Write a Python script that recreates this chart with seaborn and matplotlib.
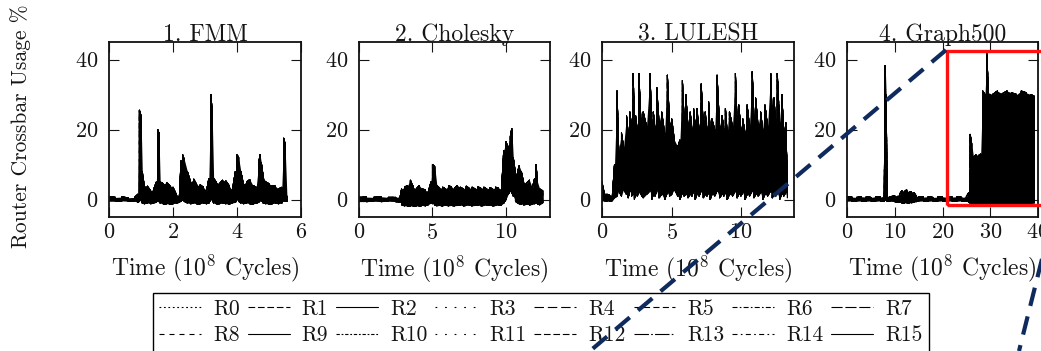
import numpy as np
import pandas as pd
import matplotlib
matplotlib.use('Agg')
import matplotlib.pyplot as plt
from matplotlib.lines import Line2D
from matplotlib.patches import Rectangle
import seaborn as sns

# ---- data (upper / lower envelope of the 16 router traces)
apps = ['1. FMM', '2. Cholesky', '3. LULESH', '4. Graph500']
routers = ['R%d' % i for i in range(16)]

fmm_t = [0.0, 0.2, 0.4, 0.6, 0.8, 0.9, 0.95, 1.0, 1.04, 1.1, 1.2, 1.3, 1.4, 1.48, 1.52, 1.56,
         1.6, 1.7, 1.8, 1.9, 2.0, 2.1, 2.2, 2.25, 2.3, 2.35, 2.45, 2.55, 2.65, 2.75, 2.85,
         2.95, 3.05, 3.12, 3.18, 3.22, 3.27, 3.35, 3.45, 3.55, 3.65, 3.75, 3.85, 3.95, 4.0,
         4.05, 4.12, 4.2, 4.3, 4.4, 4.5, 4.6, 4.68, 4.72, 4.76, 4.82, 4.9, 5.0, 5.1, 5.2,
         5.3, 5.4, 5.46, 5.5, 5.56]
fmm_hi = [0.8, 0.6, 0.7, 0.5, 0.6, 1.5, 25.5, 24.0, 8.0, 4.0, 3.8, 2.5, 3.0, 5.0, 20.0, 19.0,
          5.0, 4.5, 4.8, 4.0, 3.5, 1.5, 1.0, 11.0, 12.8, 11.5, 8.0, 5.0, 5.8, 4.0, 4.2,
          3.5, 2.5, 6.0, 30.0, 26.0, 6.0, 5.0, 4.5, 5.5, 5.3, 4.0, 2.5, 8.0, 12.8,
          12.0, 8.0, 4.5, 5.0, 5.7, 4.0, 3.5, 10.5, 12.8, 10.5, 6.5, 5.0, 4.5, 4.0, 3.8,
          3.0, 3.5, 17.5, 16.0, 1.0]
fmm_lo = [-0.5, -0.5, -0.4, -0.5, -0.5, -0.8, -0.5, 0.0, -1.0, -1.2, -1.0, -1.2, -1.0, -0.8, 0.0, -0.5,
          -1.0, -1.3, -1.2, -1.4, -1.2, -1.0, -0.8, -0.5, 0.0, -0.5, -1.0, -1.2, -1.0, -1.3, -1.2,
          -1.0, -1.2, -1.0, 0.0, 0.0, -1.0, -1.2, -1.2, -1.0, -1.2, -1.3, -1.0, -0.8, 0.0,
          -0.5, -1.0, -1.2, -1.0, -1.2, -1.3, -1.0, -0.8, 0.0, -0.5, -1.0, -1.2, -1.3, -1.2, -1.0,
          -1.2, -1.0, 0.0, -0.5, -0.5]

chol_t = [0.0, 0.5, 1.0, 1.5, 2.0, 2.5, 2.8, 2.9, 3.1, 3.3, 3.5, 3.7, 3.9, 4.1, 4.3, 4.5, 4.7,
          4.9, 5.0, 5.15, 5.3, 5.5, 5.7, 5.9, 6.1, 6.3, 6.5, 6.7, 6.9, 7.1, 7.3, 7.5, 7.7,
          7.9, 8.1, 8.3, 8.5, 8.7, 8.9, 9.1, 9.3, 9.5, 9.7, 9.85, 10.0, 10.15, 10.3, 10.4,
          10.5, 10.65, 10.8, 10.9, 11.05, 11.2, 11.4, 11.6, 11.8, 11.95, 12.05, 12.15, 12.3, 12.5]
chol_hi = [0.6, 0.7, 0.6, 0.8, 0.6, 0.6, 0.8, 3.0, 3.5, 4.0, 5.5, 3.5, 3.0, 4.0, 3.0, 2.8, 2.0,
           5.0, 10.0, 9.5, 4.0, 3.2, 3.5, 3.0, 4.0, 3.5, 3.2, 4.0, 3.5, 3.0, 3.8, 3.2, 3.5,
           3.0, 3.6, 3.2, 3.5, 3.0, 3.4, 3.0, 3.5, 3.2, 3.0, 14.0, 16.5, 15.0, 18.0, 20.3,
           12.0, 7.5, 8.0, 9.6, 8.0, 5.0, 4.7, 5.5, 3.3, 6.0, 10.0, 5.0, 3.0, 2.5]
chol_lo = [-0.6, -0.6, -0.5, -0.6, -0.5, -0.6, -0.7, -1.5, -1.8, -1.9, -1.8, -2.0, -1.8, -1.9, -1.7, -1.8, -1.5,
           -1.0, -1.2, -1.5, -1.8, -1.7, -1.8, -1.6, -1.8, -1.7, -1.8, -1.7, -1.6, -1.8, -1.7, -1.6, -1.8,
           -1.7, -1.6, -1.8, -1.7, -1.6, -1.7, -1.8, -1.7, -1.6, -1.5, -1.0, 0.0, 1.5, 2.5, 2.0,
           1.0, -0.5, -1.0, -1.2, -1.3, -1.5, -1.4, -1.5, -1.4, -1.2, -1.0, -1.3, -1.5, -1.0]

lul_t = [0.0, 0.15, 0.35, 0.55, 0.75, 0.9, 1.08, 1.2, 1.4, 1.55, 1.76, 1.88, 2.0, 2.12, 2.24,
         2.33, 2.41, 2.53, 2.65, 2.8, 2.96, 3.2, 3.45, 3.57, 3.69, 3.81, 3.93, 4.1, 4.29, 4.5,
         4.7, 4.85, 5.01, 5.2, 5.45, 5.6, 5.78, 5.9, 6.02, 6.18, 6.34, 6.46, 6.58, 6.7, 6.82,
         6.98, 7.13, 7.28, 7.42, 7.54, 7.66, 7.78, 7.9, 8.1, 8.27, 8.45, 8.63, 8.75, 8.87, 9.0,
         9.16, 9.38, 9.59, 9.71, 9.83, 9.98, 10.12, 10.28, 10.43, 10.6, 10.8, 10.92, 11.04,
         11.22, 11.4, 11.55, 11.71, 11.9, 12.12, 12.24, 12.36, 12.48, 12.6, 12.76, 12.92,
         13.06, 13.2, 13.33]
lul_hi = [5.0, 2.0, 1.5, 1.2, 1.5, 10.0, 31.0, 14.0, 19.0, 15.0, 24.0, 19.0, 25.0, 21.0, 36.0,
          22.0, 24.0, 20.0, 36.0, 22.0, 25.0, 21.0, 36.0, 22.0, 25.0, 20.0, 32.0, 22.0, 25.0, 19.0,
          35.5, 22.0, 23.0, 17.0, 15.0, 17.0, 34.0, 23.0, 30.0, 21.0, 25.0, 20.0, 26.0, 21.0, 26.0,
          20.0, 33.0, 21.0, 25.0, 20.0, 28.0, 19.0, 23.0, 20.0, 35.5, 21.0, 24.0, 20.0, 26.0, 19.0,
          25.0, 21.0, 36.0, 22.0, 27.0, 20.0, 23.0, 19.0, 27.0, 21.0, 36.5, 23.0, 29.0,
          21.0, 25.0, 20.0, 27.0, 21.0, 36.0, 23.0, 29.0, 22.0, 36.0, 22.0, 30.0,
          20.0, 22.0, 5.0]
lul_lo = [-0.5, -0.3, -0.5, -0.5, -0.3, 0.5, 1.0, 2.5, 1.0, 3.0, 1.5, 0.5, 2.5, 1.0, 1.5,
          0.0, 2.5, 1.0, 2.0, 1.5, 0.5, 1.5, 2.5, 0.0, 1.5, 1.0, 2.5, 0.5, 1.5, 0.0,
          2.0, 1.0, 1.5, 3.0, 1.0, 0.0, 2.0, 1.0, 1.5, 0.5, 1.5, 1.0, 2.5, 0.0, 1.5,
          1.0, 2.5, 0.5, 1.5, 1.0, 2.0, 0.0, 1.5, 1.0, 2.5, 0.5, 1.5, 1.0, 2.0, 0.0,
          1.5, 1.0, 2.5, 0.5, 1.5, 1.0, 2.0, 0.0, 1.5, 1.0, 2.5, 0.5, 1.5,
          1.0, 2.0, 0.0, 1.5, 1.0, 2.5, 0.5, 1.5, 1.0, 2.0, 0.0, 1.5,
          1.0, 2.0, 0.5]

g500_t = [0, 1, 2, 3, 4, 5, 6, 7, 7.8, 8.0, 8.2, 8.4, 9, 10, 11, 11.5, 12, 12.5, 13, 13.5, 14,
          14.5, 15, 16, 17, 18, 19, 20, 21, 22, 23, 24, 25, 25.5, 25.8, 26.1, 26.5, 27.0, 27.5,
          28.0, 28.4, 28.9, 29.3, 29.6, 30.5, 31.5, 32.5, 33.5, 34.5, 35.5, 36.5, 37.5, 38.5, 39.2]
g500_hi = [0.8, 0.7, 0.6, 0.8, 0.7, 0.6, 0.8, 0.7, 1.0, 38.3, 30.0, 1.0, 0.8, 1.0, 1.5, 2.5, 2.2, 2.8, 2.0, 2.3, 2.0,
           1.0, 0.8, 0.7, 0.8, 0.6, 0.7, 0.8, 0.6, 0.7, 0.8, 0.6, 0.8, 2.0, 18.6, 16.0, 12.0, 12.8, 12.5,
           13.0, 31.0, 30.0, 41.6, 30.5, 30.0, 31.0, 30.2, 31.0, 30.5, 30.0, 31.0, 30.5, 30.0, 29.5]
g500_lo = [-0.5, -0.4, -0.5, -0.4, -0.5, -0.4, -0.5, -0.4, -0.5, 0.0, -0.3, -0.5, -0.5, -0.6, -0.8, -1.0, -1.0, -0.9, -1.0, -0.9, -0.8,
           -0.6, -0.5, -0.4, -0.5, -0.4, -0.5, -0.4, -0.5, -0.4, -0.5, -0.4, -0.5, -0.8, -1.0, -1.2, -1.3, -1.2, -1.3,
           -1.2, -1.3, -1.2, -1.0, -1.3, -1.2, -1.3, -1.2, -1.3, -1.2, -1.3, -1.2, -1.3, -1.2, -1.0]

series = {
    '1. FMM': (fmm_t, fmm_hi, fmm_lo),
    '2. Cholesky': (chol_t, chol_hi, chol_lo),
    '3. LULESH': (lul_t, lul_hi, lul_lo),
    '4. Graph500': (g500_t, g500_hi, g500_lo),
}
xlims = {'1. FMM': (0, 6), '2. Cholesky': (0, 13), '3. LULESH': (0, 13.8), '4. Graph500': (0, 40)}
xticks = {'1. FMM': [0, 2, 4, 6], '2. Cholesky': [0, 5, 10], '3. LULESH': [0, 5, 10],
          '4. Graph500': [0, 10, 20, 30, 40]}

# dash pattern per router (on/off lengths in line widths, '' = solid)
dash_styles = [(1.6, 2.4), (6, 2.5), '', (1.6, 7), (8.5, 3.5), (5.5, 3), (4.5, 2, 1.5, 2),
               (10, 2.5), (4.5, 4.5), '', (3, 1.6, 1.6, 1.6), (1.6, 7), (6, 2.5),
               (13, 2, 1.5, 2), (4.5, 3, 1.5, 3), '']

# ---- long-form table: each router trace zig-zags between the read envelopes
rows = []
for app, (t, hi, lo) in series.items():
    for r in routers:
        for i in range(len(t)):
            pair = (lo[i], hi[i]) if i % 2 == 0 else (hi[i], lo[i])
            for v in pair:
                rows.append((app, r, t[i], v))
df = pd.DataFrame(rows, columns=['app', 'router', 'time', 'usage'])

sns.set_style('ticks')
plt.rcParams['font.family'] = ['cmr10', 'DejaVu Serif']
plt.rcParams['mathtext.fontset'] = 'cm'
plt.rcParams['axes.formatter.use_mathtext'] = True
plt.rcParams['axes.unicode_minus'] = False
txt = '#151515'

fig = plt.figure(figsize=(10.41, 3.51), dpi=100)
W, H = 1041, 351
lefts = [109, 359, 602, 847]
widths = [192, 191, 192, 191]
top, bottom = 42, 217

axes = []
for k, app in enumerate(apps):
    ax = fig.add_axes([lefts[k] / W, 1 - bottom / H, widths[k] / W, (bottom - top) / H])
    axes.append(ax)
    t, hi, lo = series[app]
    ax.fill_between(t, lo, hi, color='black', lw=0)
    sub = df[df['app'] == app]
    sns.lineplot(data=sub, x='time', y='usage', style='router', dashes=dash_styles,
                 color='black', lw=0.7, sort=False, estimator=None, legend=False, ax=ax)
    ax.set_xlim(*xlims[app])
    ax.set_ylim(-5, 45)
    ax.set_xticks(xticks[app])
    ax.set_yticks([0, 20, 40])
    ax.tick_params(direction='in', top=True, right=True, length=7, width=0.8,
                   labelsize=16, colors=txt)
    ax.tick_params(axis='x', pad=4)
    ax.tick_params(axis='y', pad=8)
    for s in ax.spines.values():
        s.set_linewidth(1.3)
        s.set_color('#111111')
    ax.set_title(app, fontsize=17, pad=1, color=txt)
    ax.set_xlabel(r'Time (10$^8$ Cycles)', fontsize=17, color=txt, labelpad=8)
    ax.set_ylabel('')

fig.text(21 / W, 1 - 126 / H, 'Router Crossbar Usage %', rotation=90,
         ha='center', va='center', fontsize=15.5, color=txt)

# zoom marker on Graph500
ax4 = axes[3]
ax4.add_patch(Rectangle((21, -1.6), 22, 44.1, fill=False, edgecolor='#ff1010',
                        lw=2.4, clip_on=False, zorder=5))

navy = '#0f2a5c'
fig.add_artist(Line2D([946 / W, 590 / W], [1 - 50 / H, 1 - 351 / H], color=navy, lw=3,
                      dashes=(4.5, 2.6), transform=fig.transFigure, zorder=6))
fig.add_artist(Line2D([1046 / W, 1019 / W], [1 - 243 / H, 1 - 351 / H], color=navy, lw=3,
                      dashes=(4.5, 2.6), transform=fig.transFigure, zorder=6))

# legend: two rows of eight, filled column-wise
handles = []
for i, r in enumerate(routers):
    d = dash_styles[i]
    h = Line2D([], [], color='black', lw=0.8)
    if d != '':
        h.set_dashes(d)
    handles.append(h)
order = []
for c in range(8):
    order += [c, c + 8]
leg = fig.legend([handles[i] for i in order], [routers[i] for i in order], ncol=8,
                 loc='upper left', bbox_to_anchor=(153 / W, 1 - 293 / H), frameon=True,
                 fancybox=False, edgecolor='black', framealpha=1, fontsize=15.5,
                 borderpad=0.3, handlelength=1.95, handletextpad=0.55, columnspacing=0.37,
                 labelspacing=0.32, borderaxespad=0)
leg.get_frame().set_linewidth(1.0)
for tx in leg.get_texts():
    tx.set_color(txt)

fig.savefig('out.png', dpi=100)
plt.close(fig)
